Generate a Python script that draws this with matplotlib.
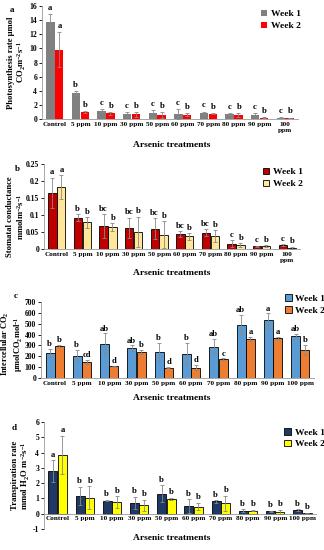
import numpy as np
import matplotlib
matplotlib.use("Agg")
import matplotlib.pyplot as plt

plt.rcParams["font.family"] = ["Liberation Serif", "DejaVu Serif"]
plt.rcParams["font.weight"] = "bold"
plt.rcParams["mathtext.fontset"] = "custom"
plt.rcParams["mathtext.rm"] = "Liberation Serif:bold"
plt.rcParams["mathtext.bf"] = "Liberation Serif:bold"
plt.rcParams["mathtext.it"] = "Liberation Serif:bold"
plt.rcParams["mathtext.default"] = "bf"

cats_ab = ["Control", "5 ppm", "10 ppm", "30 ppm", "50 ppm", "60 ppm",
           "70 ppm", "80 ppm", "90 ppm", "100\nppm"]
cats_cd = ["Control", "5 ppm", "10 ppm", "30 ppm", "50 ppm", "60 ppm",
           "70 ppm", "80 ppm", "90 ppm", "100 ppm"]

# a: photosynthesis
a_w1 = [13.7, 3.7, 1.2, 0.7, 0.8, 0.7, 0.85, 0.7, 0.6, 0.2]
a_w1_err = [1.2, 0.3, 0.2, 0.3, 0.45, 0.7, 0.2, 0.1, 0.2, 0.05]
a_w2 = [9.8, 1.0, 0.8, 0.65, 0.6, 0.6, 0.75, 0.55, 0.2, 0.15]
a_w2_err = [2.5, 0.1, 0.2, 0.3, 0.4, 0.2, 0.1, 0.3, 0.1, 0.05]
a_l1 = ["a", "b", "c", "c", "c", "c", "c", "c", "c", "c"]
a_l2 = ["a", "b", "b", "b", "b", "b", "b", "b", "b", "b"]

# b: stomatal conductance
b_w1 = [0.165, 0.092, 0.068, 0.062, 0.060, 0.044, 0.048, 0.015, 0.008, 0.012]
b_w1_err = [0.045, 0.01, 0.035, 0.03, 0.03, 0.008, 0.01, 0.01, 0.002, 0.002]
b_w2 = [0.182, 0.078, 0.064, 0.050, 0.042, 0.037, 0.038, 0.012, 0.008, 0.004]
b_w2_err = [0.035, 0.015, 0.012, 0.045, 0.04, 0.01, 0.018, 0.005, 0.003, 0.003]
b_l1 = ["a", "b", "bc", "bc", "bc", "bc", "bc", "c", "c", "c"]
b_l2 = ["a", "b", "b", "b", "b", "b", "b", "b", "b", "b"]

# c: intercellular CO2
c_w1 = [230, 205, 310, 275, 240, 225, 290, 490, 530, 385]
c_w1_err = [40, 50, 100, 25, 80, 100, 70, 90, 65, 20]
c_w2 = [295, 145, 110, 240, 95, 95, 175, 360, 365, 258]
c_w2_err = [8, 20, 5, 20, 5, 25, 5, 20, 10, 45]
c_l1 = ["b", "b", "ab", "ab", "b", "b", "ab", "ab", "a", "ab"]
c_l2 = ["b", "cd", "d", "b", "d", "d", "c", "a", "a", "b"]

# d: transpiration
d_w1 = [2.8, 1.15, 0.85, 0.7, 1.3, 0.5, 0.8, 0.2, 0.15, 0.25]
d_w1_err = [0.7, 0.6, 0.05, 0.4, 0.55, 0.45, 0.08, 0.08, 0.05, 0.05]
d_w2 = [3.85, 1.05, 0.75, 0.55, 0.97, 0.47, 0.67, 0.2, 0.12, 0.03]
d_w2_err = [1.25, 0.75, 0.4, 0.35, 0.08, 0.25, 0.5, 0.05, 0.15, 0.02]
d_l1 = ["a", "b", "b", "b", "b", "b", "b", "b", "b", "b"]
d_l2 = ["a", "b", "b", "b", "b", "b", "b", "b", "b", "b"]

W, H = 324, 550
fig = plt.figure(figsize=(W / 100, H / 100), dpi=100)


def box(x0, x1, ytop, ybot):
    return [x0 / W, 1 - ybot / H, (x1 - x0) / W, (ybot - ytop) / H]


def panel(rect, cats, w1, e1, w2, e2, l1, l2, colors, edge, ylim, yticks,
          yfmt, ylabel, ylab_px, ylab_y, ylab_fs, tag, tagpos, legpos, xlab_y,
          off, zero_spine=False):
    ax = fig.add_axes(rect)
    if zero_spine:
        ax.spines["bottom"].set_position(("data", 0))
    x = np.arange(len(cats))
    bw = 0.33
    ax.bar(x - 0.17, w1, bw, color=colors[0], edgecolor=edge, linewidth=0.6,
           label="Week 1", zorder=2)
    ax.bar(x + 0.17, w2, bw, color=colors[1], edgecolor=edge, linewidth=0.6,
           label="Week 2", zorder=2)
    ax.errorbar(x - 0.17, w1, yerr=e1, fmt="none", ecolor="#888888",
                elinewidth=0.6, capsize=1.5, capthick=0.6, zorder=3)
    ax.errorbar(x + 0.17, w2, yerr=e2, fmt="none", ecolor="#888888",
                elinewidth=0.6, capsize=1.5, capthick=0.6, zorder=3)
    for i in range(len(cats)):
        ax.text(x[i] - 0.19, w1[i] + e1[i] + off, l1[i], ha="center",
                va="bottom", fontsize=6.2, fontweight="bold")
        ax.text(x[i] + 0.19, w2[i] + e2[i] + off, l2[i], ha="center",
                va="bottom", fontsize=6.2, fontweight="bold")
    ax.set_xlim(-0.5, len(cats) - 0.5)
    ax.set_ylim(*ylim)
    ax.set_yticks(yticks)
    ax.set_yticklabels([yfmt(v) for v in yticks], fontsize=5.5,
                       fontweight="bold")
    ax.set_xticks(x)
    ax.set_xticklabels(cats, fontsize=5.2, fontweight="bold")
    ax.tick_params(axis="x", length=0, pad=2)
    ax.tick_params(axis="y", length=2, width=0.6, pad=1.5)
    for s in ["top", "right"]:
        ax.spines[s].set_visible(False)
    for s in ["left", "bottom"]:
        ax.spines[s].set_linewidth(0.6)
        ax.spines[s].set_color("#999999")
    ax.set_ylabel(ylabel, fontsize=ylab_fs, fontweight="bold", linespacing=1.1)
    ax.yaxis.set_label_coords((ylab_px - rect[0] * W) / (rect[2] * W), ylab_y)
    fig.text(tagpos[0] / W, 1 - tagpos[1] / H, tag, fontsize=6.5,
             fontweight="bold", ha="left", va="center")
    fig.text(0.53, 1 - xlab_y / H, "Arsenic treatments", fontsize=6.8,
             fontweight="bold", ha="center", va="center")
    leg = ax.legend(loc="upper left", bbox_to_anchor=legpos, frameon=False,
                    fontsize=6.8, handlelength=0.7, handleheight=0.7,
                    handletextpad=0.4, labelspacing=0.35, borderaxespad=0)
    for t in leg.get_texts():
        t.set_fontweight("bold")
    return ax


def fmt_int(v):
    return f"{v:g}"


panel(box(42, 298, 6, 119), cats_ab, a_w1, a_w1_err, a_w2, a_w2_err, a_l1, a_l2,
      ["#808080", "#ff0000"], "none", (0, 16), np.arange(0, 17, 2), fmt_int,
      "Photosynthesis rate µmol\nCO$_2$m$^{-2}$s$^{-1}$", 28.5, 0.5, 6.2,
      "a", (10, 10), (0.84, 1.0), 145, off=0.3)

panel(box(44, 300, 164, 249), cats_ab, b_w1, b_w1_err, b_w2, b_w2_err, b_l1, b_l2,
      ["#c00000", "#ffe699"], "black", (0, 0.25), np.arange(0, 0.26, 0.05),
      lambda v: "0" if v == 0 else f"{v:g}",
      "Stomatal conductance\nmmolm$^{-2}$s$^{-1}$", 26, 0.38, 6.2,
      "b", (15, 169), (0.84, 1.0), 273, off=0.004)

panel(box(41, 314, 302, 378), cats_cd, c_w1, c_w1_err, c_w2, c_w2_err, c_l1, c_l2,
      ["#5b9bd5", "#ed7d31"], "black", (0, 700), np.arange(0, 701, 100), fmt_int,
      "Intercellular CO$_2$\nµmolCO$_2$mol$^{-1}$", 25, 0.45, 6.0,
      "c", (14, 296), (0.88, 1.15), 398, off=8)

panel(box(44, 316, 422, 529), cats_cd, d_w1, d_w1_err, d_w2, d_w2_err, d_l1, d_l2,
      ["#1f3864", "#ffff00"], "black", (-1, 6), np.arange(-1, 7, 1), fmt_int,
      "Transpiration rate\nmmol H$_2$O m$^{-2}$s$^{-1}$", 32, 0.5, 6.3,
      "d", (12, 428), (0.87, 0.98), 538, off=0.1, zero_spine=True)

fig.savefig("out.png", dpi=100)
